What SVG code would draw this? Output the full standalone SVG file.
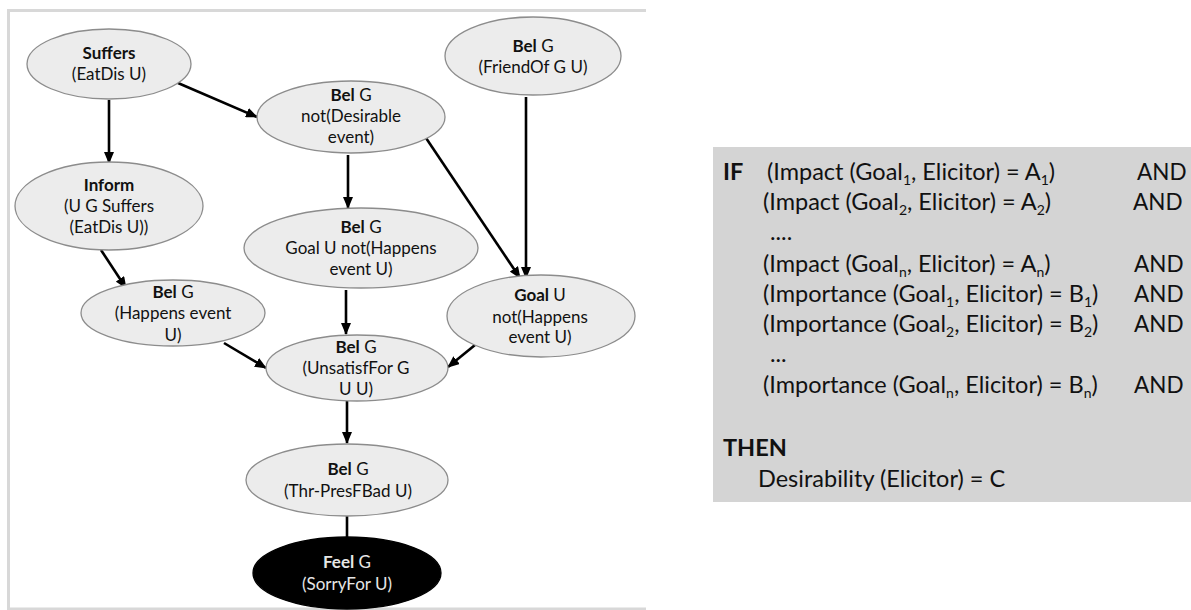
<svg xmlns="http://www.w3.org/2000/svg" width="1191" height="610" viewBox="0 0 1191 610">
  <style>
    .node ellipse { fill: #ececec; stroke: #8c8c8c; stroke-width: 1.3; }
    .node text { font-family: Lato, "Liberation Sans", sans-serif; font-size: 17px; fill: #111; text-anchor: middle; }
    .node .b { font-weight: bold; }
    #feel ellipse { fill: #000; stroke: #000; }
    #feel text { fill: #e6e6e6; }
    .edge { stroke: #000; stroke-width: 2.6; fill: none; }
    .frame { stroke: #d8d8d8; stroke-width: 3; fill: none; }
    .rule text { font-family: Lato, "Liberation Sans", sans-serif; font-size: 23.5px; fill: #111; }
    .rule .kw { font-weight: bold; }
    .rule .and { font-size: 22.5px; }
    .sub { font-size: 14px; }
  </style>
  <defs>
    <marker id="arrow" markerUnits="userSpaceOnUse" markerWidth="12" markerHeight="10" refX="11" refY="5" orient="auto">
      <path d="M0,0 L12,5 L0,10 Z" fill="#000"/>
    </marker>
  </defs>

  <rect width="1191" height="610" fill="#fff"/>

  <!-- frame around the graph -->
  <path class="frame" d="M646,10.5 H8.5 V609 H646"/>

  <!-- connectors -->
  <g id="connectors">
    <line class="edge" x1="109" y1="100" x2="109" y2="163" marker-end="url(#arrow)"/>
    <line class="edge" x1="178" y1="83" x2="257" y2="117" marker-end="url(#arrow)"/>
    <line class="edge" x1="348" y1="155" x2="348" y2="208" marker-end="url(#arrow)"/>
    <line class="edge" x1="426" y1="138" x2="520" y2="278" marker-end="url(#arrow)"/>
    <line class="edge" x1="526" y1="97" x2="526" y2="278" marker-end="url(#arrow)"/>
    <line class="edge" x1="101" y1="250" x2="126" y2="288" marker-end="url(#arrow)"/>
    <line class="edge" x1="346" y1="290" x2="346" y2="334" marker-end="url(#arrow)"/>
    <line class="edge" x1="224" y1="343" x2="266" y2="368" marker-end="url(#arrow)"/>
    <line class="edge" x1="475" y1="345" x2="448" y2="367" marker-end="url(#arrow)"/>
    <line class="edge" x1="347" y1="401" x2="347" y2="443" marker-end="url(#arrow)"/>
    <line class="edge" x1="347" y1="510" x2="347" y2="538"/>
  </g>

  <!-- nodes -->
  <g id="suffers" class="node">
    <ellipse cx="109" cy="64" rx="82" ry="35"/>
    <text x="109" y="59" class="b">Suffers</text>
    <text x="109" y="80">(EatDis U)</text>
  </g>
  <g id="bel-not-desirable" class="node">
    <ellipse cx="351" cy="117" rx="94" ry="36"/>
    <text x="351" y="101"><tspan class="b">Bel</tspan> G</text>
    <text x="351" y="122">not(Desirable</text>
    <text x="351" y="143">event)</text>
  </g>
  <g id="bel-friendof" class="node">
    <ellipse cx="533" cy="56" rx="88" ry="39"/>
    <text x="533" y="52"><tspan class="b">Bel</tspan> G</text>
    <text x="533" y="73">(FriendOf G U)</text>
  </g>
  <g id="inform" class="node">
    <ellipse cx="109" cy="206" rx="94" ry="44"/>
    <text x="109" y="191" class="b">Inform</text>
    <text x="109" y="212">(U G Suffers</text>
    <text x="109" y="233">(EatDis U))</text>
  </g>
  <g id="bel-goal-not-happens" class="node">
    <ellipse cx="361" cy="248" rx="117" ry="40"/>
    <text x="361" y="233"><tspan class="b">Bel</tspan> G</text>
    <text x="361" y="254">Goal U not(Happens</text>
    <text x="361" y="275">event U)</text>
  </g>
  <g id="bel-happens" class="node">
    <ellipse cx="173" cy="313" rx="92" ry="33"/>
    <text x="173" y="298"><tspan class="b">Bel</tspan> G</text>
    <text x="173" y="319">(Happens event</text>
    <text x="173" y="341">U)</text>
  </g>
  <g id="goal-not-happens" class="node">
    <ellipse cx="541" cy="316" rx="94" ry="41"/>
    <text x="540" y="301"><tspan class="b">Goal</tspan> U</text>
    <text x="540" y="323">not(Happens</text>
    <text x="540" y="343">event U)</text>
  </g>
  <g id="bel-unsatisfor" class="node">
    <ellipse cx="357" cy="368" rx="91" ry="33"/>
    <text x="356" y="353"><tspan class="b">Bel</tspan> G</text>
    <text x="356" y="374">(UnsatisfFor G</text>
    <text x="356" y="395">U U)</text>
  </g>
  <g id="bel-thr-presfbad" class="node">
    <ellipse cx="347" cy="480" rx="101" ry="36"/>
    <text x="348" y="475"><tspan class="b">Bel</tspan> G</text>
    <text x="348" y="497">(Thr-PresFBad U)</text>
  </g>
  <g id="feel" class="node">
    <ellipse cx="347" cy="573" rx="94" ry="36"/>
    <text x="347" y="568"><tspan class="b">Feel</tspan> G</text>
    <text x="347" y="590">(SorryFor U)</text>
  </g>

  <!-- desirability rule -->
  <g id="rule" class="rule">
    <rect x="713" y="147" width="478" height="355" fill="#d4d4d4"/>
    <text x="723" y="180" class="kw">IF</text>
    <text x="767" y="180">(Impact (Goal<tspan class="sub" dy="5">1</tspan><tspan dy="-5">, Elicitor) = A</tspan><tspan class="sub" dy="5">1</tspan><tspan dy="-5">)</tspan></text>
    <text x="763" y="210">(Impact (Goal<tspan class="sub" dy="5">2</tspan><tspan dy="-5">, Elicitor) = A</tspan><tspan class="sub" dy="5">2</tspan><tspan dy="-5">)</tspan></text>
    <text x="770" y="240">....</text>
    <text x="763" y="272">(Impact (Goal<tspan class="sub" dy="5">n</tspan><tspan dy="-5">, Elicitor) = A</tspan><tspan class="sub" dy="5">n</tspan><tspan dy="-5">)</tspan></text>
    <text x="763" y="302">(Importance (Goal<tspan class="sub" dy="5">1</tspan><tspan dy="-5">, Elicitor) = B</tspan><tspan class="sub" dy="5">1</tspan><tspan dy="-5">)</tspan></text>
    <text x="763" y="332">(Importance (Goal<tspan class="sub" dy="5">2</tspan><tspan dy="-5">, Elicitor) = B</tspan><tspan class="sub" dy="5">2</tspan><tspan dy="-5">)</tspan></text>
    <text x="770" y="362">...</text>
    <text x="763" y="393">(Importance (Goal<tspan class="sub" dy="5">n</tspan><tspan dy="-5">, Elicitor) = B</tspan><tspan class="sub" dy="5">n</tspan><tspan dy="-5">)</tspan></text>
    <text x="1137" y="180" class="and">AND</text>
    <text x="1133" y="210" class="and">AND</text>
    <text x="1134" y="272" class="and">AND</text>
    <text x="1134" y="302" class="and">AND</text>
    <text x="1134" y="332" class="and">AND</text>
    <text x="1134" y="393" class="and">AND</text>
    <text x="723" y="456" class="kw">THEN</text>
    <text x="758" y="487">Desirability (Elicitor) = C</text>
  </g>
</svg>
